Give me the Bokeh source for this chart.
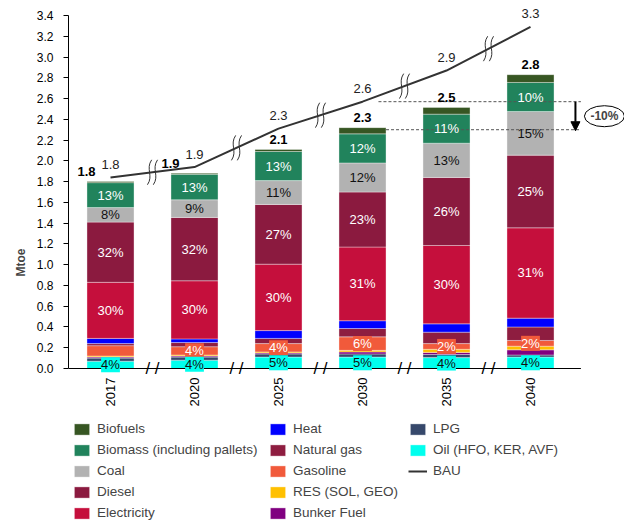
import math
from bokeh.plotting import figure
from bokeh.models import (ColumnDataSource, Legend, LegendItem, LabelSet, Label, Arrow,
                          NormalHead, Range1d, FixedTicker, NumeralTickFormatter)
from bokeh.core.properties import value
from bokeh.embed import file_html
from bokeh.resources import INLINE

FONT = "Liberation Sans"

# ---------------- data (Mtoe) ----------------
years = ["2017", "2020", "2025", "2030", "2035", "2040"]
oil = [0.07, 0.08, 0.11, 0.11, 0.105, 0.11]
lpg = [0.03, 0.03, 0.03, 0.03, 0.03, 0.02]
bunker = [0.01, 0.01, 0.01, 0.02, 0.02, 0.05]
res = [0.01, 0.01, 0.01, 0.015, 0.03, 0.035]
gasoline = [0.10, 0.08, 0.08, 0.13, 0.055, 0.055]
natural_gas = [0.02, 0.04, 0.05, 0.08, 0.11, 0.13]
heat = [0.05, 0.035, 0.075, 0.075, 0.08, 0.085]
electricity = [0.54, 0.56, 0.64, 0.71, 0.755, 0.87]
diesel = [0.58, 0.61, 0.575, 0.53, 0.655, 0.70]
coal = [0.14, 0.17, 0.23, 0.28, 0.33, 0.42]
biomass = [0.24, 0.245, 0.28, 0.28, 0.28, 0.28]
biofuels = [0.01, 0.01, 0.02, 0.06, 0.065, 0.075]
bau = [1.84, 1.94, 2.31, 2.57, 2.87, 3.29]
y_ticks = [0.0, 0.2, 0.4, 0.6, 0.8, 1.0, 1.2, 1.4, 1.6, 1.8, 2.0, 2.2, 2.4, 2.6, 2.8, 3.0, 3.2, 3.4]

# stacking order bottom -> top
series_names = ["Oil (HFO, KER, AVF)", "LPG", "Bunker Fuel", "RES (SOL, GEO)", "Gasoline",
                "Natural gas", "Heat", "Electricity", "Diesel", "Coal",
                "Biomass (including pallets)", "Biofuels"]
series_values = [oil, lpg, bunker, res, gasoline, natural_gas, heat, electricity, diesel,
                 coal, biomass, biofuels]
colors = ["#00FFEE", "#36486B", "#800080", "#FFC000", "#F15A3B", "#8E1D40", "#0000FF",
          "#C50F3C", "#8B1A3F", "#B2B2B2", "#21835C", "#375623"]
legend_columns = [
    ["Biofuels", "Biomass (including pallets)", "Coal", "Diesel", "Electricity"],
    ["Heat", "Natural gas", "Gasoline", "RES (SOL, GEO)", "Bunker Fuel"],
    ["LPG", "Oil (HFO, KER, AVF)", "BAU"],
]

n = len(years)
xs = list(range(n))
keys = [f"s{i}" for i in range(len(series_values))]
data = {"x": xs}
for k, v in zip(keys, series_values):
    data[k] = v
src = ColumnDataSource(data)

totals = [sum(s[i] for s in series_values) for i in range(n)]

# layout: 84 px per category, 353 px for 0..3.4 Mtoe; the frame also hosts the legend
PXX = 84.0
PXY = 353.0 / 3.4
FW, FH = 556, 518
Y_TOP_PAD = 12          # px above the 3.4 tick
p = figure(frame_width=FW, frame_height=FH,
           x_range=Range1d(-0.5, -0.5 + FW / PXX),
           y_range=Range1d(3.4 + Y_TOP_PAD / PXY - FH / PXY, 3.4 + Y_TOP_PAD / PXY),
           output_backend="svg", toolbar_location=None,
           min_border_left=68, min_border_top=3, min_border_right=0, min_border_bottom=1)
p.outline_line_color = None
p.xgrid.visible = False
p.ygrid.visible = False
p.background_fill_color = "white"
p.xaxis.visible = False

renderers = p.vbar_stack(keys, x="x", width=0.56, fill_color=colors, source=src,
                         line_color="white", line_width=0.6, line_alpha=0.6)
rmap = dict(zip(series_names, renderers))

# baseline (x axis line)
p.segment(x0=[-0.5], y0=[0], x1=[5.6], y1=[0], line_color="black", line_width=1)

# year labels, rotated
yr_src = ColumnDataSource(dict(x=xs, y=[0] * n, t=years))
p.add_layout(LabelSet(x="x", y="y", text="t", source=yr_src, angle=math.pi / 2,
                      text_align="right", text_baseline="middle", y_offset=-9,
                      text_font=value(FONT), text_font_size="13px", text_color="black"))

# BAU line
bau_src = ColumnDataSource(dict(x=xs, y=bau, t=[f"{v:.1f}" for v in bau]))
bau_r = p.line("x", "y", source=bau_src, line_color="#333333", line_width=2)
rmap["BAU"] = bau_r

# break marks on the BAU line
bx0, by0, bx1, by1, bcx0, bcy0, bcx1, bcy1 = [], [], [], [], [], [], [], []
for i in range(n - 1):
    mx = i + 0.5
    my = (bau[i] + bau[i + 1]) / 2
    for s in (-0.035, 0.035):
        bx0.append(mx + s - 0.025); by0.append(my - 0.12)
        bx1.append(mx + s + 0.025); by1.append(my + 0.12)
        bcx0.append(mx + s + 0.05); bcy0.append(my - 0.03)
        bcx1.append(mx + s - 0.05); bcy1.append(my + 0.03)
p.bezier(x0=bx0, y0=by0, x1=bx1, y1=by1, cx0=bcx0, cy0=bcy0, cx1=bcx1, cy1=bcy1,
         line_color="#333333", line_width=1)

# percentage labels
def cum_bottom(j):
    return [sum(series_values[k][i] for k in range(j)) for i in range(n)]

def add_pct(name, color, idxs=None, bg=None):
    j = series_names.index(name)
    vals = series_values[j]
    bot = cum_bottom(j)
    idxs = range(n) if idxs is None else idxs
    d = dict(x=[xs[i] for i in idxs],
             y=[bot[i] + vals[i] / 2 for i in idxs],
             t=[f"{round(vals[i] / totals[i] * 100):.0f}%" for i in idxs])
    ls = LabelSet(x="x", y="y", text="t", source=ColumnDataSource(d),
                  text_align="center", text_baseline="middle",
                  text_font=value(FONT), text_font_size="13px", text_color=color,
                  background_fill_color=bg, background_fill_alpha=1.0 if bg else 0.0)
    p.add_layout(ls)

add_pct("Biomass (including pallets)", "white")
add_pct("Coal", "#111111")
add_pct("Diesel", "white")
add_pct("Electricity", "white")
add_pct("Gasoline", "white", idxs=[1, 2, 3, 4, 5], bg="#F15A3B")
add_pct("Oil (HFO, KER, AVF)", "#111111", bg="#00FFEE")

# dashed reference lines, arrow and -10% badge
p.segment(x0=[3.19, 3.28], y0=[bau[3], totals[3] - 0.02], x1=[5.6, 5.6],
          y1=[bau[3], totals[3] - 0.02], line_color="#555555", line_width=1, line_dash="3 2")
p.add_layout(Arrow(x_start=5.535, y_start=bau[3], x_end=5.535, y_end=totals[3] - 0.03,
                   line_width=2, line_color="black",
                   end=NormalHead(size=9, fill_color="black", line_color="black")))
p.ellipse(x=[5.88], y=[2.43], width=40, height=21, width_units="screen",
          height_units="screen", fill_color="white", line_color="black", line_width=1)
p.add_layout(Label(x=5.88, y=2.43, text="-10%", text_align="center", text_baseline="middle",
                   text_font=FONT, text_font_size="12px", text_font_style="bold"))

# totals (bold) and BAU values
tot_src = ColumnDataSource(dict(x=xs, y=totals, t=[f"{v:.1f}" for v in totals],
                                dx=[-24, -24, 0, 0, 0, 0]))
p.add_layout(LabelSet(x="x", y="y", text="t", source=tot_src, x_offset="dx", y_offset=10,
                      text_align="center", text_baseline="middle", text_font=value(FONT),
                      text_font_size="13px", text_font_style="bold", text_color="black"))
p.add_layout(LabelSet(x="x", y="y", text="t", source=bau_src, y_offset=13,
                      text_align="center", text_baseline="middle", text_font=value(FONT),
                      text_font_size="13px", text_color="#222222"))

# axis break marks
brk_src = ColumnDataSource(dict(x=[i + 0.5 for i in range(n - 1)], y=[0] * (n - 1),
                                t=["/ /"] * (n - 1)))
p.add_layout(LabelSet(x="x", y="y", text="t", source=brk_src, text_align="center",
                      text_baseline="middle", text_font=value(FONT), text_font_size="17px",
                      text_color="black"))

# y axis
p.yaxis.bounds = (0, 3.4)
p.yaxis.ticker = FixedTicker(ticks=y_ticks)
p.yaxis.formatter = NumeralTickFormatter(format="0.0")
p.yaxis.major_tick_in = 0
p.yaxis.major_tick_out = 5
p.yaxis.major_label_standoff = 10
p.yaxis.minor_tick_line_color = None
p.yaxis.axis_line_color = "black"
p.yaxis.major_label_text_font = FONT
p.yaxis.major_label_text_font_size = "12px"
p.yaxis.major_label_text_color = "black"
p.yaxis.axis_label = "Mtoe"
p.yaxis.axis_label_text_font = FONT
p.yaxis.axis_label_text_font_size = "12px"
p.yaxis.axis_label_text_font_style = "bold"
p.yaxis.axis_label_standoff = 6

# legend: three columns under the chart, inside the frame
ITEM_H, SPACING = 15, 6
col_x = [4, 200, 340]
base_y = 1
for cx, names in zip(col_x, legend_columns):
    missing = len(legend_columns[0]) - len(names)
    lg = Legend(items=[LegendItem(label=nm, renderers=[rmap[nm]]) for nm in names],
                location=(cx, base_y + missing * (ITEM_H + SPACING)),
                orientation="vertical", border_line_color=None, background_fill_alpha=0,
                glyph_width=19, glyph_height=14, label_height=14,
                label_text_font=FONT, label_text_font_size="13.5px",
                label_standoff=6, spacing=SPACING, padding=0, margin=0)
    p.add_layout(lg, "center")

open("out.html", "w").write(file_html(p, INLINE))
